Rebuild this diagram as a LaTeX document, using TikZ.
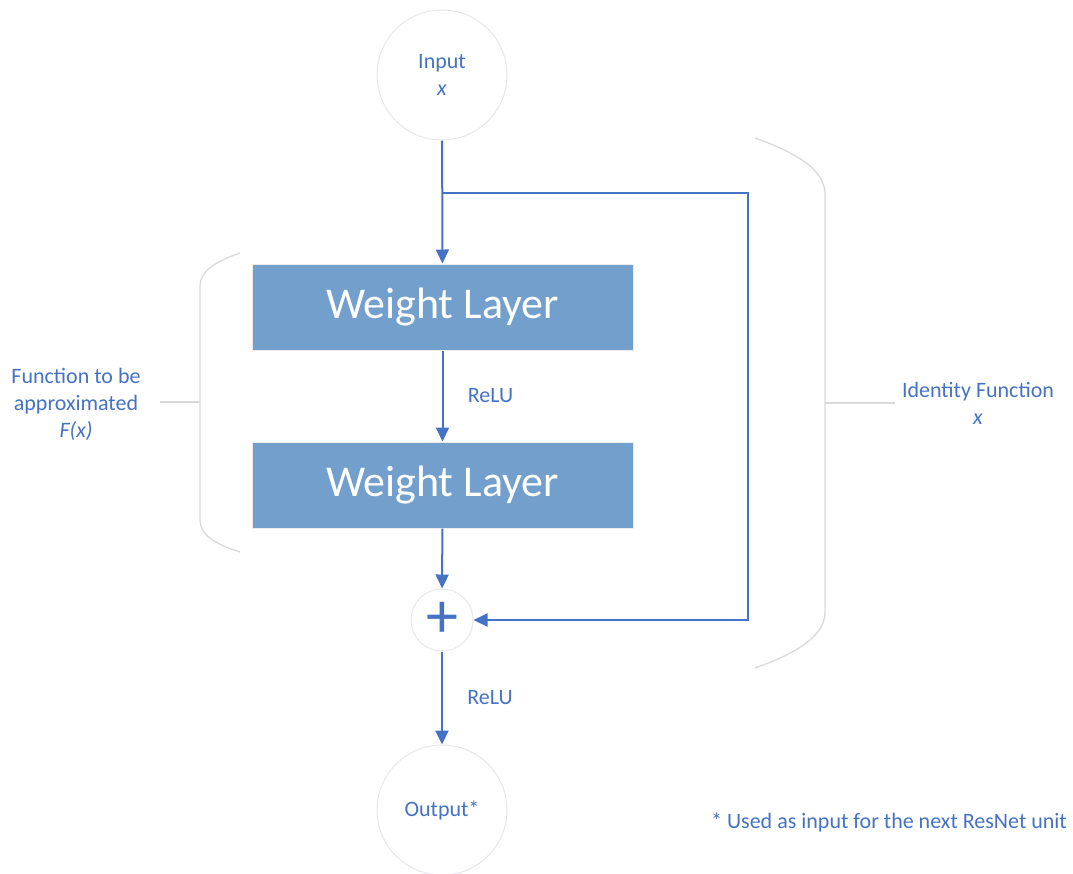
\documentclass[tikz,border=0pt]{standalone}
\usepackage{fontspec}
\setmainfont{Carlito}
\usetikzlibrary{arrows.meta}
\definecolor{linkblue}{HTML}{4472C4}
\definecolor{boxblue}{HTML}{739FCD}
\definecolor{bracegray}{HTML}{D9D9D9}
\definecolor{ringgray}{HTML}{E6E6EC}
\tikzset{
	ring/.style={circle, draw=ringgray, line width=1pt, text=linkblue, align=center},
	layer/.style={rectangle, draw=white!85!gray, line width=1pt, fill=boxblue, text=white,
		minimum width=381pt, minimum height=86pt, font=\fontsize{44}{50}\selectfont},
	flow/.style={draw=linkblue, line width=2pt, -{Triangle[length=14pt,width=13pt]}},
	note/.style={text=linkblue, align=center, font=\fontsize{22}{27}\selectfont},
	brace/.style={draw=bracegray, line width=1.3pt}
}
\begin{document}
\begin{tikzpicture}[x=1pt, y=-1pt]
	\useasboundingbox (0,0) rectangle (1073,873);

	% unit
	\node [ring, minimum size=130pt, font=\fontsize{22}{27}\selectfont] (in) at (442,75) {Input\\\textit{x}};
	\node [layer] (w1) at (442.5,307) {Weight Layer};
	\node [layer] (w2) at (442.5,485) {Weight Layer};
	\node [ring, minimum size=62pt, inner sep=0pt, font=\fontsize{64}{64}\selectfont] (plus) at (442,620) {\raisebox{1pt}{+}};
	\node [ring, minimum size=130pt, font=\fontsize{22}{27}\selectfont] (out) at (442,810) {Output*};

	% main path
	\draw [flow] (in) -- (w1);
	\draw [flow] (w1) -- (w2) node [note, anchor=west, pos=0.5, xshift=21pt] (relu1) {ReLU};
	\draw [flow] (w2) -- (plus);
	\draw [flow] (plus) -- (out) node [note, anchor=west, pos=0.5, xshift=21pt] (relu2) {ReLU};

	% shortcut
	\coordinate (split) at (442,193);
	\coordinate (turn) at (748,193);
	\draw [flow] (split) -- (turn) |- (plus);

	% braces
	\draw [brace] (240,253) .. controls (214,262) and (200,272) .. (200,286) -- (200,520) .. controls (200,534) and (214,544) .. (240,552);
	\draw [brace] (160,402) -- (200,402);
	\draw [brace] (755,138) .. controls (797,153) and (825,170) .. (825,194) -- (825,612) .. controls (825,636) and (797,653) .. (755,668);
	\draw [brace] (825,403) -- (895,403);

	% labels
	\node [note] (fx) at (76,404) {Function to be\\approximated\\\textit{F(x)}};
	\node [note] (idx) at (978,403) {Identity Function\\\textit{x}};
	\node [note] (foot) at (889,822) {* Used as input for the next ResNet unit};
\end{tikzpicture}
\end{document}
